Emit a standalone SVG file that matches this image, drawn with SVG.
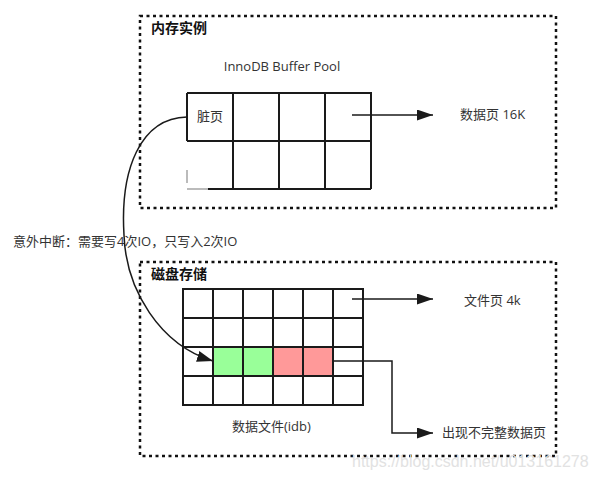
<svg xmlns="http://www.w3.org/2000/svg" width="596" height="481" viewBox="0 0 596 481">
<style>
.box{fill:none;stroke:#111;stroke-width:2.5;stroke-dasharray:3 3.5}
.grid{fill:none;stroke:#1a1a1a;stroke-width:2}
.conn{fill:none;stroke:#1a1a1a;stroke-width:1.5}
.t{font-family:"Open Sans","Noto Sans CJK SC",sans-serif;font-size:13px;fill:#333}
.h{font-family:"Noto Sans CJK SC",sans-serif;font-size:14px;font-weight:bold;fill:#111}
.wm{font-family:"Liberation Sans",sans-serif;font-size:16px;fill:#e2e2e2}
</style>
<defs>
<marker id="arr" markerUnits="userSpaceOnUse" markerWidth="17" markerHeight="11" refX="16" refY="5.5" orient="auto">
<path d="M0,0 L16,5.5 L0,11 Z" fill="#1a1a1a"/>
</marker>
</defs>
<rect width="596" height="481" fill="#fff"/>

<g id="memory">
<rect class="box" x="140" y="16" width="416" height="192"/>
<text class="h" x="151" y="33">内存实例</text>
</g>

<g id="bufferpool">
<text class="t" x="282" y="71" text-anchor="middle">InnoDB Buffer Pool</text>
<path class="grid" d="M187,93 H371 V189 M208,189 H371 M187,93 V141 M187,141 H371 M233,93 V189 M279,93 V189 M325,93 V189"/>
<path d="M187,189 H208 M187,170 V183" stroke="#bbb" stroke-width="2" fill="none"/>
<text class="t" x="197" y="121">脏页</text>
</g>

<g id="label-16k">
<text class="t" x="460" y="119">数据页 16K</text>
</g>

<g id="disk">
<rect class="box" x="140" y="262" width="416" height="194"/>
<text class="h" x="151" y="279">磁盘存储</text>
</g>

<g id="datafile">
<rect x="213" y="347" width="60" height="29" fill="#99ff99"/>
<rect x="273" y="347" width="60" height="29" fill="#ff9999"/>
<path class="grid" d="M183,289 H363 V405 H183 Z M183,318 H363 M183,347 H363 M183,376 H363 M213,289 V405 M243,289 V405 M273,289 V405 M303,289 V405 M333,289 V405"/>
<text class="t" x="232" y="431">数据文件(idb)</text>
</g>

<g id="label-4k">
<text class="t" x="464" y="305">文件页 4k</text>
</g>

<g id="label-incomplete">
<text class="t" x="442" y="437">出现不完整数据页</text>
</g>

<g id="label-interrupt">
<text class="t" x="13" y="246">意外中断：需要写4次IO，只写入2次IO</text>
</g>

<g id="connectors">
<line class="conn" x1="352" y1="115" x2="433" y2="115" marker-end="url(#arr)"/>
<line class="conn" x1="352" y1="299" x2="433" y2="299" marker-end="url(#arr)"/>
<path class="conn" d="M333,361 H392 V433 H433" marker-end="url(#arr)"/>
<path class="conn" d="M187,117 C140,118 120,170 124,235 C126,290 160,345 213,361" marker-end="url(#arr)"/>
</g>

<text class="wm" x="352" y="467">https://blog.csdn.net/u013161278</text>
</svg>
